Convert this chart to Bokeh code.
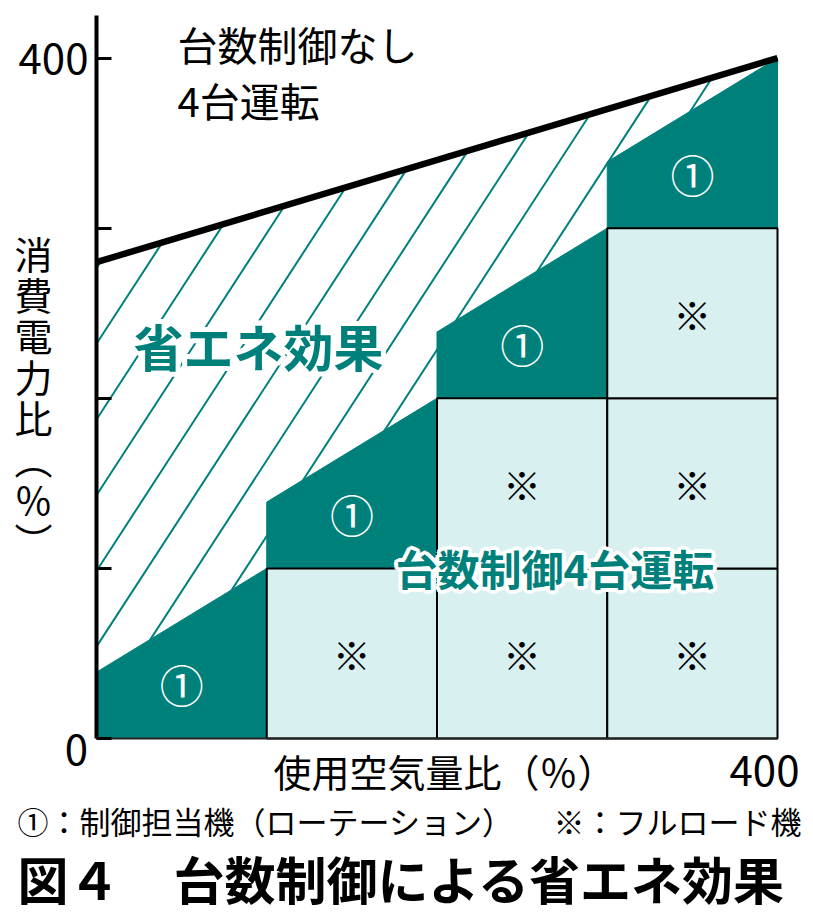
import numpy as np
from bokeh.plotting import figure
from bokeh.models import Label, FixedTicker
from bokeh.core.properties import value
from bokeh.embed import file_html
from bokeh.resources import INLINE

# ---------------- data ----------------
air_edges = [0, 100, 200, 300, 400]          # 使用空気量比 (%) step boundaries
ctrl_base = [0, 100, 200, 300]               # bottom of 制御担当機 block per step
ctrl_start = [39, 139, 239, 339]             # 制御担当機 power at start of step
ctrl_end = [100, 200, 300, 400]              # 制御担当機 power at end of step
nocontrol_x = [0, 400]                       # 台数制御なし 4台運転
nocontrol_y = [280, 400]
y_ticks = [0, 100, 200, 300, 400]
y_tick_labels = {0: "", 100: "", 200: "", 300: "", 400: "400"}
x_tick_label = "400"
ctrl_mark = "①"
full_mark = "※"

# ---------------- style / geometry ----------------
TEAL = "#00807b"
LIGHT = "#d9f0f0"
JP = "Noto Sans CJK JP"
W, H = 813, 914
X0_PX, X1_PX = 96, 777        # pixel of x=0 and x=400
Y0_PX, YTOP_PX = 738, 15      # pixel of y=0 and top of the y axis
Y_AXIS_TOP = 425
sx = (X1_PX - X0_PX) / 400.0
sy = (Y0_PX - YTOP_PX) / Y_AXIS_TOP

def dx(px):
    return (px - X0_PX) / sx

def dy(py):
    return (Y0_PX - py) / sy

p = figure(width=W, height=H,
           x_range=(dx(0), dx(W)), y_range=(dy(H), dy(0)),
           output_backend="svg", toolbar_location=None,
           min_border_left=0, min_border_right=0,
           min_border_top=0, min_border_bottom=0)
p.outline_line_color = None
p.grid.visible = False
p.background_fill_color = "white"
p.border_fill_color = "white"

# axes (fixed at the data origin)
p.xaxis.fixed_location = 0
p.xaxis.bounds = (0, 400)
p.xaxis.ticker = FixedTicker(ticks=[], minor_ticks=[])
p.xaxis.axis_line_width = 2
p.xaxis.axis_line_color = "#222222"
p.xaxis.major_tick_out = 0
p.xaxis.minor_tick_out = 0

p.yaxis.fixed_location = 0
p.yaxis.bounds = (0, Y_AXIS_TOP)
p.yaxis.ticker = FixedTicker(ticks=y_ticks, minor_ticks=[])
p.yaxis.major_label_overrides = y_tick_labels
p.yaxis.axis_line_width = 4
p.yaxis.axis_line_color = "black"
p.yaxis.major_tick_in = 15
p.yaxis.major_tick_out = 0
p.yaxis.minor_tick_in = 0
p.yaxis.minor_tick_out = 0
p.yaxis.major_tick_line_width = 3
p.yaxis.major_tick_line_color = "black"
p.yaxis.major_label_text_font = JP
p.yaxis.major_label_text_font_size = "42px"
p.yaxis.major_label_text_color = "black"
p.yaxis.major_label_standoff = 8

# hatch lines for 省エネ効果 region (drawn first, covered below by blocks)
HATCH_SLOPE, HATCH_STEP, HATCH_OFFSET = 1.54, 44.5, 98.5
m = (nocontrol_y[1] - nocontrol_y[0]) / (nocontrol_x[1] - nocontrol_x[0])
c = nocontrol_y[0] - m * nocontrol_x[0]
b = HATCH_OFFSET + HATCH_STEP * np.arange(-15, 6)
x_lo = np.where(b < 0, -b / HATCH_SLOPE, 0.0)
x_hi = np.minimum((c - b) / (HATCH_SLOPE - m), 400.0)
keep = x_hi > x_lo
x_lo, x_hi, bk = x_lo[keep], x_hi[keep], b[keep]
p.segment(x0=x_lo, y0=HATCH_SLOPE * x_lo + bk, x1=x_hi, y1=HATCH_SLOPE * x_hi + bk,
          line_color=TEAL, line_width=2)

# 制御担当機 blocks
xs, ys = [], []
for i in range(4):
    a, e = air_edges[i], air_edges[i + 1]
    xs.append([a, a, e, e])
    ys.append([ctrl_base[i], ctrl_start[i], ctrl_end[i], ctrl_base[i]])
p.patches(xs, ys, fill_color=TEAL, line_color=TEAL, line_width=1)

# フルロード機 cells
L, R, B, T = [], [], [], []
for i in range(4):
    for j in range(i):
        L.append(air_edges[i]); R.append(air_edges[i + 1])
        B.append(ctrl_base[j]); T.append(ctrl_base[j + 1])
p.quad(left=L, right=R, bottom=B, top=T, fill_color=LIGHT, line_color="black", line_width=2)

# marks
mids = [(air_edges[i] + air_edges[i + 1]) / 2 for i in range(4)]
p.text(x=mids, y=[ctrl_base[i] + 32 for i in range(4)], text=[ctrl_mark] * 4,
       text_font=value(JP), text_font_size="44px", text_color="white",
       text_align="center", text_baseline="middle")
cx = [(l + r) / 2 for l, r in zip(L, R)]
cy = [(bb + tt) / 2 for bb, tt in zip(B, T)]
p.text(x=cx, y=cy, text=[full_mark] * len(cx),
       text_font=value(JP), text_font_size="38px", text_color="black",
       text_align="center", text_baseline="middle")

# 台数制御なし line
p.line(nocontrol_x, nocontrol_y, line_width=6.5, line_color="black")

def lab(text, px, py, size, color="black", bold=False, align="left", **kw):
    l = Label(x=dx(px), y=dy(py), text=text, text_font=JP, text_font_size=f"{size}px",
              text_color=color, text_font_style="bold" if bold else "normal",
              text_align=align, text_baseline="middle", **kw)
    p.add_layout(l)
    return l

def halo_lab(text, px, py, size, color, radius):
    for ang in np.arange(0, 360, 30):
        lab(text, px, py, size, color="white", bold=True,
            x_offset=float(radius * np.cos(np.radians(ang))),
            y_offset=float(radius * np.sin(np.radians(ang))))
    lab(text, px, py, size, color=color, bold=True)

lab("台数制御なし", 177, 43, 40)
lab("4台運転", 177, 99, 40)
halo_lab("省エネ効果", 133, 344, 50, TEAL, 5)
halo_lab("台数制御4台運転", 395, 567, 42, TEAL, 4)

# y axis title (vertical)
for k, ch in enumerate(["消", "費", "電", "力", "比", "︵", "％", "︶"]):
    lab(ch, 33, 252 + 41 * k, 38, align="center")

lab("0", 76, 749, 42, align="center")
lab(x_tick_label, 764, 770, 42, align="center")
lab("使用空気量比（％）", 273, 770, 38)

lab("①：制御担当機（ローテーション）", 17, 820, 31)
lab("※：フルロード機", 801, 820, 31, align="right")
lab("図４", 17, 877, 51, bold=True)
lab("台数制御による省エネ効果", 173, 877, 51, bold=True)

open("out.html", "w").write(file_html(p, INLINE))
